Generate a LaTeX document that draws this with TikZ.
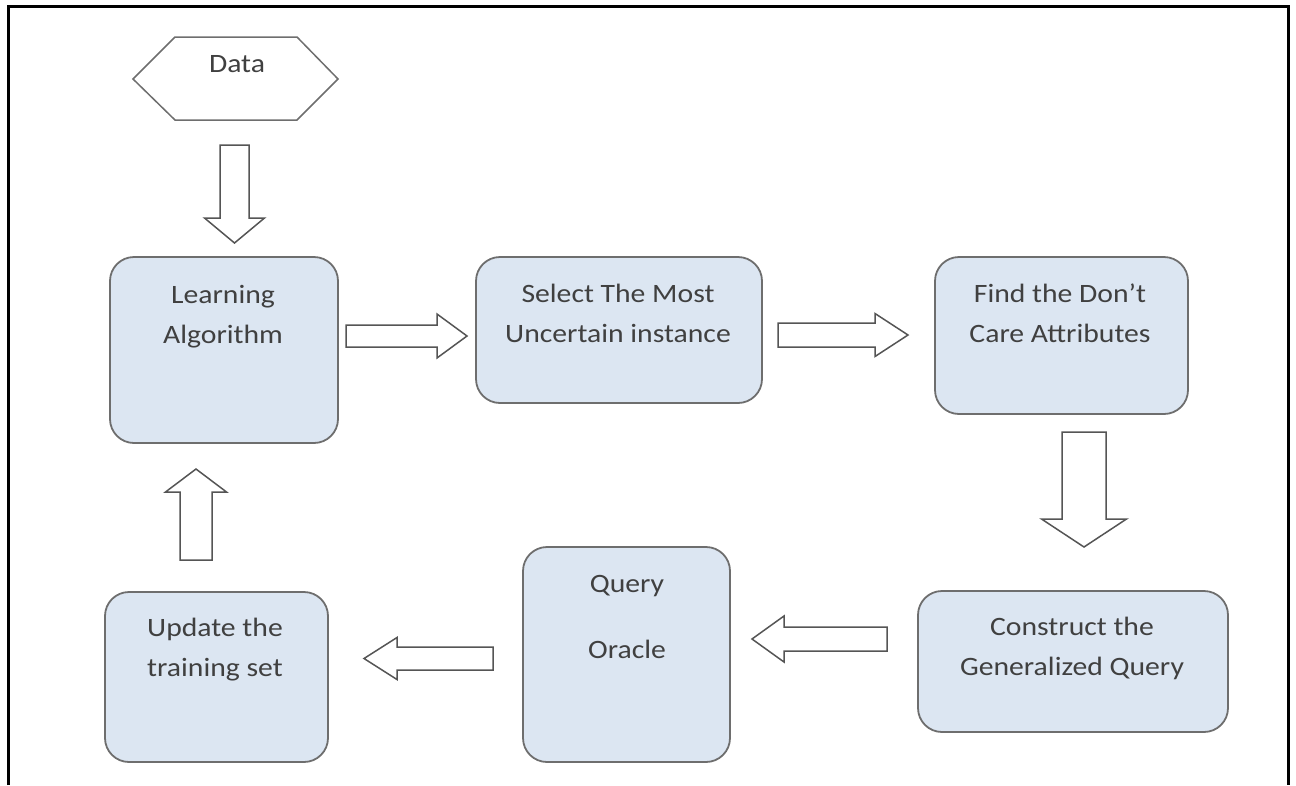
\documentclass[tikz,border=0pt]{standalone}
\usepackage{fontspec}
\setmainfont{Carlito}[FakeStretch=1.12]
\definecolor{boxfill}{RGB}{220,230,242}
\definecolor{boxline}{RGB}{110,110,110}
\definecolor{txtc}{RGB}{64,64,64}
\definecolor{arrline}{RGB}{85,85,85}
\tikzset{
  stepbox/.style={draw=boxline, line width=1.8pt, fill=boxfill, rounded corners=24pt, inner sep=0pt},
  txt/.style={text=txtc, font=\fontsize{26.5}{40}\selectfont, align=center, inner sep=0pt},
  barrow/.style={draw=arrline, line width=1.5pt, fill=white, line join=miter},
}
\newcommand\blockarrow[7]{% x, y (tail centre), angle, length, shaft half, head half, head length
  \draw[barrow, shift={(#1,#2)}, rotate=#3]
    (0,-#5) -- (#4-#7,-#5) -- (#4-#7,-#6) -- (#4,0) -- (#4-#7,#6) -- (#4-#7,#5) -- (0,#5) -- cycle;}
\begin{document}
\begin{tikzpicture}[x=1pt,y=-1pt]
\useasboundingbox (0,0) rectangle (1296,785);
% frame
\draw[line width=3pt, black] (8,785) -- (8,6) -- (1288,6) -- (1288,785);
% Data hexagon
\draw[draw=boxline, line width=1.5pt, fill=white] (133,79) -- (175,37) -- (297,37) -- (338,79) -- (297,120) -- (175,120) -- cycle;
\node[txt, anchor=base] (data) at (237,72) {Data};
% boxes
\node[stepbox, minimum width=228pt, minimum height=186pt] (la) at (224,350) {};
\node[stepbox, minimum width=286pt, minimum height=146pt] (sel) at (619,330) {};
\node[stepbox, minimum width=253pt, minimum height=157pt] (find) at (1061.5,335.5) {};
\node[stepbox, minimum width=310pt, minimum height=141pt] (cons) at (1073,661.5) {};
\node[stepbox, minimum width=207pt, minimum height=215pt] (orac) at (626.5,654.5) {};
\node[stepbox, minimum width=223pt, minimum height=170pt] (upd) at (216.5,677) {};
% texts (base anchor = baseline of last line)
\node[txt, anchor=base] (la-t) at (223,343) {Learning\\Algorithm};
\node[txt, anchor=base] (sel-t) at (618,342) {Select The Most\\Uncertain instance};
\node[txt, anchor=base] (find-t) at (1060,342) {Find the Don’t\\Care Attributes};
\node[txt, anchor=base] (cons-t) at (1072,675) {Construct the\\Generalized Query};
\node[txt, anchor=base] (orac-t) at (627,658) {Query\\[26pt]Oracle};
\node[txt, anchor=base] (upd-t) at (215,676) {Update the\\training set};
% block arrows
\blockarrow{234.5}{145}{270}{98}{14.5}{30}{25}
\blockarrow{346}{336}{0}{121}{11}{22}{30}
\blockarrow{778}{335}{0}{130}{12}{21.5}{33}
\blockarrow{1084}{432}{270}{115}{22}{42.5}{28}
\blockarrow{887}{639}{180}{135}{12}{23}{32}
\blockarrow{493}{658.5}{180}{129}{11.5}{21}{33}
\blockarrow{196}{560}{90}{91}{16}{30.5}{23}
\end{tikzpicture}
\end{document}
